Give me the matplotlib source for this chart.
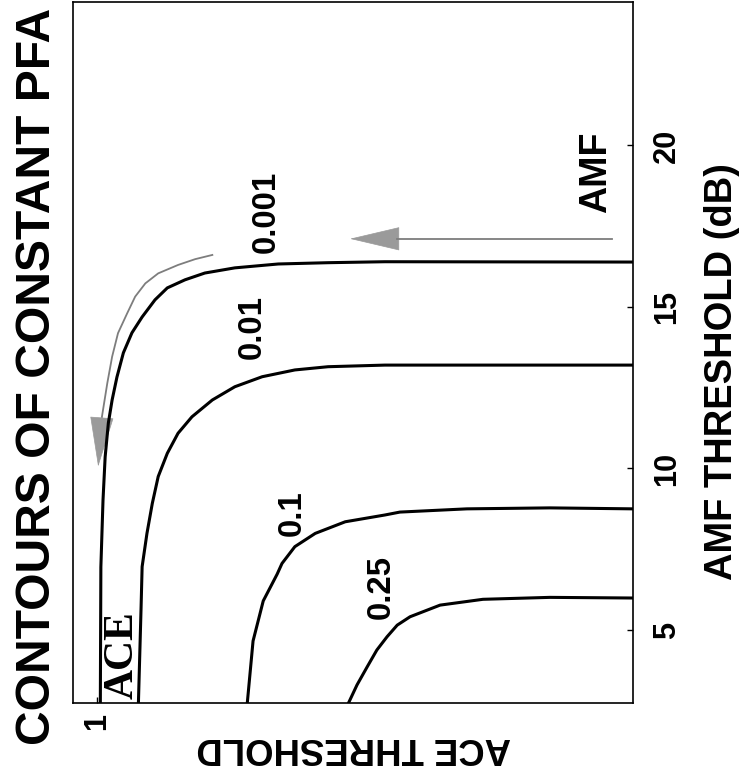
import matplotlib
matplotlib.use("Agg")
import matplotlib.pyplot as plt
from matplotlib import font_manager
from matplotlib.patches import FancyArrowPatch, ArrowStyle

# ---------------- data ----------------
pfa_labels = ["0.001", "0.01", "0.1", "0.25"]

# ACE threshold (horizontal in the rotated view) and AMF threshold in dB (vertical)
ace_0001 = [0.000, 0.463, 0.569, 0.662, 0.743, 0.799, 0.836, 0.869, 0.892, 0.916, 0.935,
            0.951, 0.963, 0.972, 0.979, 0.985, 0.989, 0.993, 0.994]
amf_0001 = [16.39, 16.40, 16.37, 16.33, 16.21, 16.05, 15.84, 15.59, 15.22, 14.69, 14.20,
            13.58, 12.83, 12.12, 11.41, 10.36, 9.02, 6.95, 2.70]

ace_001 = [0.000, 0.463, 0.569, 0.631, 0.692, 0.743, 0.785, 0.823, 0.849, 0.869, 0.886,
           0.897, 0.907, 0.916, 0.918, 0.923]
amf_001 = [13.20, 13.20, 13.15, 13.05, 12.84, 12.53, 12.12, 11.60, 11.09, 10.47, 9.75,
           8.92, 7.99, 6.96, 5.68, 2.70]

ace_01 = [0.000, 0.155, 0.310, 0.435, 0.463, 0.537, 0.593, 0.631, 0.655, 0.664, 0.690,
          0.709, 0.720]
amf_01 = [8.75, 8.78, 8.75, 8.65, 8.56, 8.35, 7.99, 7.58, 7.06, 6.73, 5.90, 4.66, 2.70]

ace_025 = [0.000, 0.155, 0.280, 0.360, 0.416, 0.440, 0.459, 0.478, 0.496, 0.515, 0.532]
amf_025 = [5.99, 6.01, 5.95, 5.77, 5.41, 5.15, 4.79, 4.38, 3.86, 3.30, 2.70]

curves_ace = [ace_0001, ace_001, ace_01, ace_025]
curves_amf = [amf_0001, amf_001, amf_01, amf_025]

# contour label anchor positions (ACE, AMF)
label_ace = [0.685, 0.711, 0.635, 0.469]
label_amf = [17.94, 14.38, 8.62, 6.33]

amf_ticks = [5, 10, 15, 20]
amf_ticklabels = ["5", "10", "15", "20"]
ace_ticks = [1.0]
ace_ticklabels = ["1"]

# gray arrows (annotation paths)
curved_arrow_ace = [0.785, 0.817, 0.849, 0.886, 0.910, 0.929, 0.944, 0.961, 0.972, 0.981,
                    0.989, 0.991]
curved_arrow_amf = [16.61, 16.48, 16.30, 16.04, 15.73, 15.32, 14.80, 14.19, 13.46, 12.64,
                    11.81, 11.60]
curved_arrow_tip = (0.998, 10.06)
straight_arrow_ace = [0.039, 0.440]
straight_arrow_amf = [17.11, 17.11]
straight_arrow_tip = (0.528, 17.11)

# ---------------- fonts ----------------
names = {f.name for f in font_manager.fontManager.ttflist}
if "Liberation Sans Narrow" in names:
    SANS = ["Liberation Sans Narrow", "DejaVu Sans"]
    K = 1.0
else:
    SANS = ["Liberation Sans", "DejaVu Sans"]
    K = 0.82
SERIF = ["Liberation Serif", "DejaVu Serif"]

# ---------------- figure ----------------
fig = plt.figure(figsize=(7.43, 7.82), dpi=100)
ax = fig.add_axes([73 / 743, 1 - 703 / 782, 560 / 743, 701 / 782])

for a, m in zip(curves_ace, curves_amf):
    ax.plot(a, m, color="black", lw=2.2, solid_capstyle="butt", solid_joinstyle="round")

for txt, a, m in zip(pfa_labels, label_ace, label_amf):
    ax.text(a, m, txt, rotation=90, ha="center", va="center",
            fontsize=29 * K, fontweight="bold", family=SANS)

ax.set_xlim(1.045, 0.0)
ax.set_ylim(2.74, 24.44)

# ticks
ax.set_xticks(ace_ticks)
ax.set_xticklabels(ace_ticklabels)
ax.yaxis.tick_right()
ax.set_yticks(amf_ticks)
ax.set_yticklabels(amf_ticklabels)
ax.tick_params(axis="both", direction="in", length=4, width=1)
ax.tick_params(axis="y", pad=13.5)
ax.tick_params(axis="x", pad=7.0)
for lbl in ax.get_yticklabels():
    lbl.set_rotation(90)
    lbl.set_va("center")
    lbl.set_ha("left")
    lbl.set_fontsize(27 * K)
    lbl.set_fontweight("bold")
    lbl.set_family(SANS)
for lbl in ax.get_xticklabels():
    lbl.set_rotation(90)
    lbl.set_fontsize(27 * K)
    lbl.set_fontweight("bold")
    lbl.set_family(SANS)

for sp in ax.spines.values():
    sp.set_linewidth(1.2)

# axis labels
ax.yaxis.set_label_position("right")
ax.set_ylabel("AMF THRESHOLD (dB)", fontsize=33.5 * K, fontweight="bold", family=SANS)
ax.yaxis.label.set_rotation(90)
ax.yaxis.label.set_rotation_mode("default")
ax.yaxis.label.set_va("center")
ax.yaxis.label.set_ha("center")
ax.yaxis.set_label_coords((722 - 73) / 560, (703 - 372) / 701)

ax.set_xlabel("ACE THRESHOLD", fontsize=32 * K, fontweight="bold", family=SANS)
ax.xaxis.label.set_rotation(180)
ax.xaxis.label.set_va("center")
ax.xaxis.label.set_ha("center")
ax.xaxis.set_label_coords((354 - 73) / 560, (703 - 747) / 701)

# title on the left, reading bottom to top
fig.text(38 / 743, 1 - 376 / 782, "CONTOURS OF CONSTANT PFA", rotation=90,
         ha="center", va="center", fontsize=42.2 * K, fontweight="bold", family=SANS)

# region labels
ax.text(0.952, 4.23, "ACE", rotation=90, ha="center", va="center",
        fontsize=30, fontweight="bold", family=SERIF)
ax.text(0.068, 19.18, "AMF", rotation=90, ha="center", va="center",
        fontsize=33 * K, fontweight="bold", family=SANS)

# gray arrows
GRAY_LINE = "#7d7d7d"
GRAY_HEAD = "#9a9a9a"
ax.plot(curved_arrow_ace, curved_arrow_amf, color=GRAY_LINE, lw=1.3)
ax.add_patch(FancyArrowPatch((curved_arrow_ace[-1], curved_arrow_amf[-1]), curved_arrow_tip,
                             arrowstyle=ArrowStyle("-|>", head_length=34, head_width=8),
                             mutation_scale=1, shrinkA=0, shrinkB=0,
                             color=GRAY_HEAD, lw=0.5))
ax.plot(straight_arrow_ace, straight_arrow_amf, color=GRAY_LINE, lw=1.3)
ax.add_patch(FancyArrowPatch((straight_arrow_ace[-1], straight_arrow_amf[-1]), straight_arrow_tip,
                             arrowstyle=ArrowStyle("-|>", head_length=34, head_width=8),
                             mutation_scale=1, shrinkA=0, shrinkB=0,
                             color=GRAY_HEAD, lw=0.5))

fig.savefig("out.png", dpi=100)
